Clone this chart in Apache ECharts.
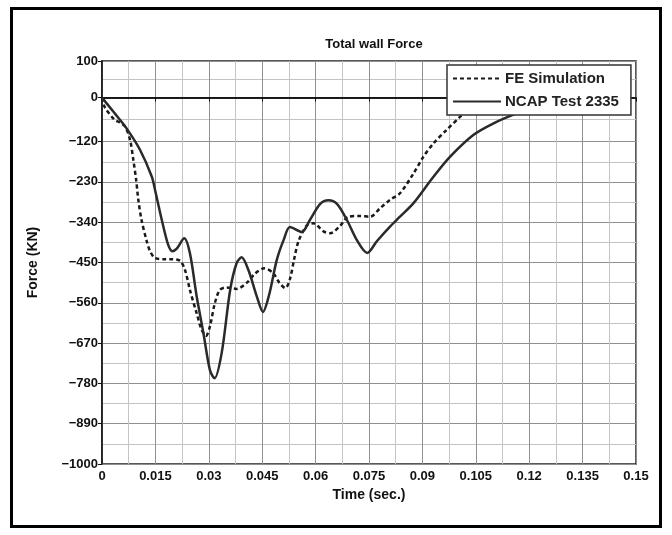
<!DOCTYPE html>
<html>
<head>
<meta charset="utf-8">
<script src="https://cdn.jsdelivr.net/npm/echarts@6/dist/echarts.min.js"></script>
<style>html,body{margin:0;padding:0;background:#fff}#c{width:672px;height:535px}</style>
</head>
<body>
<div id="c"></div>
<script>
// ---- data ----
const feTime  = [0, 0.0005, 0.001, 0.0035, 0.005, 0.0065, 0.0079, 0.0088, 0.0096, 0.0102, 0.0111, 0.0126, 0.0135, 0.0149, 0.0175, 0.0196, 0.0219, 0.0233, 0.0247, 0.0266, 0.028, 0.0292, 0.0303, 0.0317, 0.0331, 0.035, 0.0378, 0.0407, 0.043, 0.0456, 0.048, 0.0498, 0.0515, 0.0528, 0.054, 0.0552, 0.0575, 0.0594, 0.0622, 0.0641, 0.0669, 0.0692, 0.0725, 0.0753, 0.0781, 0.0809, 0.0837, 0.0875, 0.0903, 0.0931, 0.0968, 0.1006, 0.1024, 0.105, 0.108];
const feForce = [0, -20, -30, -60, -68, -79, -116, -170, -225, -279, -334, -393, -419, -438, -441, -441, -445, -470, -525, -589, -634, -650, -625, -561, -525, -518, -522, -505, -480, -466, -478, -505, -520, -495, -440, -392, -349, -343, -365, -370, -350, -325, -323, -325, -302, -279, -261, -207, -161, -125, -88, -52, -34, -12, 0];
const ncapTime  = [0, 0.0035, 0.0069, 0.0107, 0.014, 0.0149, 0.0168, 0.0186, 0.0198, 0.021, 0.0231, 0.0247, 0.0266, 0.0285, 0.0303, 0.0316, 0.0336, 0.036, 0.0378, 0.0392, 0.0411, 0.0435, 0.0452, 0.0469, 0.0491, 0.051, 0.0528, 0.0561, 0.0584, 0.0613, 0.0636, 0.066, 0.0688, 0.0716, 0.0745, 0.0772, 0.0809, 0.0837, 0.0875, 0.0931, 0.0978, 0.1043, 0.11, 0.1165, 0.122, 0.128, 0.135];
const ncapForce = [0, -42, -84, -143, -216, -252, -334, -402, -419, -412, -384, -425, -543, -643, -743, -766, -698, -525, -452, -436, -470, -543, -585, -540, -443, -389, -353, -367, -334, -290, -280, -290, -334, -389, -424, -392, -352, -325, -288, -216, -161, -102, -70, -43, -25, -12, -5];
const yTicks = [100, 0, -120, -230, -340, -450, -560, -670, -780, -890, -1000];
const seriesNames = ['FE Simulation', 'NCAP Test 2335'];
const chartTitle = 'Total wall Force';
const xName = 'Time (sec.)';
const yName = 'Force (KN)';

// ---- build ----
const sortedTicks = yTicks.slice().sort((a, b) => a - b);
const yMinor = [];
for (let i = 0; i < sortedTicks.length - 1; i++) yMinor.push((sortedTicks[i] + sortedTicks[i + 1]) / 2);
const zip = (a, b) => a.map((v, i) => [v, b[i]]);
const FONT = 'Liberation Sans, Arial, sans-serif';

const chart = echarts.init(document.getElementById('c'), null, { renderer: 'canvas' });
chart.setOption({
  animation: false,
  backgroundColor: '#fff',
  textStyle: { fontFamily: FONT },
  title: {
    text: chartTitle, left: 369, top: 33, textAlign: 'center',
    textStyle: { fontFamily: FONT, fontSize: 13, fontWeight: 'bold', color: '#111' }
  },
  graphic: [{
    type: 'rect', silent: true, z: 100,
    shape: { x: 11.5, y: 8.5, width: 649, height: 518 },
    style: { fill: 'none', stroke: '#000', lineWidth: 3 }
  }],
  legend: {
    orient: 'vertical', left: 447, top: 65, z: 10,
    itemWidth: 48, itemHeight: 14, itemGap: 8,
    padding: [6, 12, 6, 5],
    backgroundColor: '#fff', borderColor: '#333', borderWidth: 1.5,
    itemStyle: { opacity: 0 },
    textStyle: { fontFamily: FONT, fontSize: 15, fontWeight: 'bold', color: '#222', padding: [0, 0, 0, -1] },
    data: seriesNames
  },
  grid: {
    left: 102, right: 36, top: 61, bottom: 71,
    show: true, borderColor: '#222', borderWidth: 1.5
  },
  xAxis: {
    type: 'value', min: 0, max: 0.15, interval: 0.015,
    name: xName, nameLocation: 'middle', nameGap: 21,
    nameTextStyle: { fontFamily: FONT, fontSize: 14, fontWeight: 'bold', color: '#111' },
    axisLine: { lineStyle: { color: '#111', width: 1.5 } },
    axisTick: { show: true, length: 4, lineStyle: { color: '#111' } },
    axisLabel: { fontFamily: FONT, fontSize: 13, fontWeight: 'bold', color: '#111', margin: 6 },
    splitLine: { show: true, lineStyle: { color: '#8f8f8f', width: 1 } },
    minorTick: { show: false, splitNumber: 2 },
    minorSplitLine: { show: true, lineStyle: { color: '#c4c4c4', width: 1 } }
  },
  yAxis: [{
    type: 'value', min: -1000, max: 100,
    name: yName, nameLocation: 'middle', nameGap: 62,
    nameTextStyle: { fontFamily: FONT, fontSize: 14, fontWeight: 'bold', color: '#111' },
    axisLine: { show: true, lineStyle: { color: '#111', width: 1.5 } },
    axisTick: { show: true, length: 4, customValues: yTicks, lineStyle: { color: '#111' } },
    axisLabel: {
      customValues: yTicks, fontFamily: FONT, fontSize: 13, fontWeight: 'bold', color: '#111', margin: 4,
      formatter: v => (v < 0 ? '\u2212' + Math.abs(v) : String(v))
    },
    splitLine: { show: true, lineStyle: { color: '#8f8f8f', width: 1 } }
  }, {
    type: 'value', min: -1000, max: 100, position: 'left',
    axisLine: { show: false }, axisLabel: { show: false },
    axisTick: { show: false, customValues: yMinor },
    splitLine: { show: true, lineStyle: { color: '#c4c4c4', width: 1 } }
  }],
  series: [{
    name: seriesNames[0], type: 'line', symbol: 'none', smooth: 0.3, z: 3,
    data: zip(feTime, feForce),
    lineStyle: { color: '#1a1a1a', width: 2.5, type: [4, 3] },
    itemStyle: { color: '#1a1a1a' },
    markLine: {
      silent: true, symbol: 'none', label: { show: false }, animation: false, z: 2,
      lineStyle: { color: '#111', width: 1.5, type: 'solid' },
      data: [{ yAxis: 0 }]
    }
  }, {
    name: seriesNames[1], type: 'line', symbol: 'none', smooth: 0.3, z: 3,
    data: zip(ncapTime, ncapForce),
    lineStyle: { color: '#2a2a2a', width: 2.5, type: 'solid' },
    itemStyle: { color: '#2a2a2a' }
  }]
});
</script>
</body>
</html>
